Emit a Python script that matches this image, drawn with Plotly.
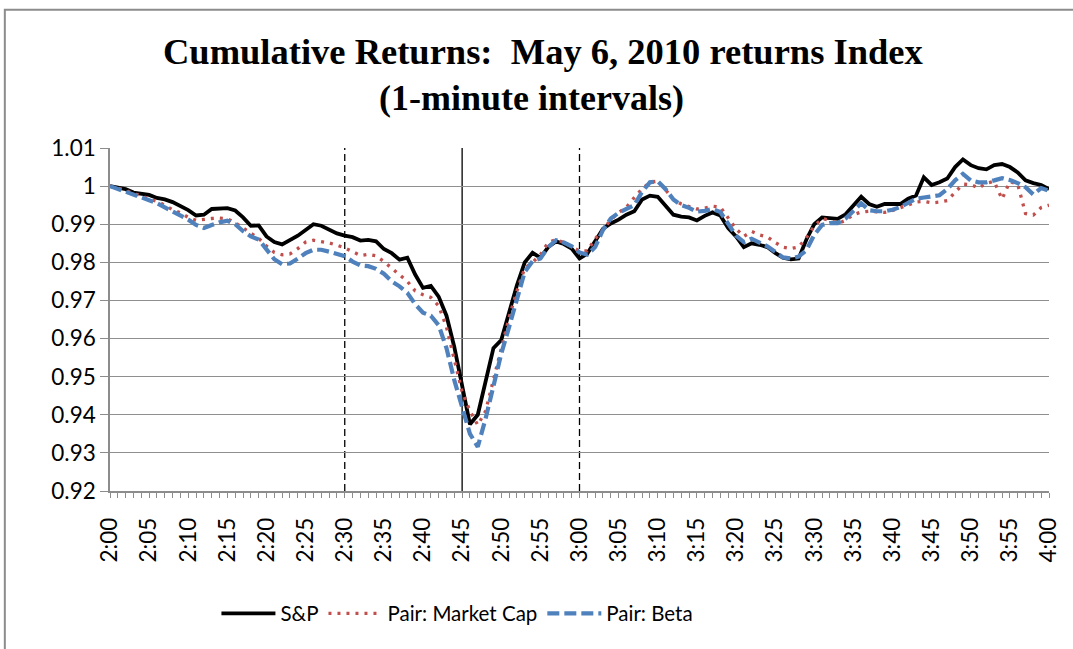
import plotly.graph_objects as go

# ---- data -------------------------------------------------------------
minutes = list(range(121))  # 2:00 .. 4:00, one per minute
time_labels = [f"{2 + m // 60}:{m % 60:02d}" for m in minutes]
tick_minutes = list(range(0, 121, 5))
tick_labels = [time_labels[m] for m in tick_minutes]

sp = [1.0000, 0.9997, 0.9992, 0.9983, 0.9980, 0.9977, 0.9969, 0.9965, 0.9958, 0.9947,
      0.9937, 0.9923, 0.9925, 0.9940, 0.9941, 0.9942, 0.9936, 0.9918, 0.9896, 0.9897,
      0.9868, 0.9853, 0.9847, 0.9858, 0.9870, 0.9885, 0.9900, 0.9896, 0.9886, 0.9876,
      0.9870, 0.9866, 0.9857, 0.9859, 0.9855, 0.9835, 0.9824, 0.9807, 0.9812, 0.9768,
      0.9733, 0.9738, 0.9710, 0.9660, 0.9578, 0.9470, 0.9375, 0.9400, 0.9490, 0.9575,
      0.9596, 0.9670, 0.9740, 0.9800, 0.9825, 0.9812, 0.9840, 0.9855, 0.9848, 0.9836,
      0.9810, 0.9823, 0.9855, 0.9888, 0.9902, 0.9912, 0.9925, 0.9934, 0.9965, 0.9975,
      0.9972, 0.9950, 0.9925, 0.9920, 0.9918, 0.9910, 0.9922, 0.9931, 0.9923, 0.9890,
      0.9868, 0.9840, 0.9850, 0.9846, 0.9840, 0.9825, 0.9812, 0.9808, 0.9810, 0.9860,
      0.9900, 0.9918, 0.9916, 0.9914, 0.9926, 0.9950, 0.9972, 0.9953, 0.9946, 0.9953,
      0.9953, 0.9953, 0.9967, 0.9975, 1.0023, 1.0003, 1.0010, 1.0020, 1.0050, 1.0070,
      1.0055, 1.0047, 1.0044, 1.0055, 1.0058, 1.0050, 1.0036, 1.0015, 1.0008, 1.0003,
      0.9992]

mcap = [1.0000, 0.9995, 0.9989, 0.9980, 0.9975, 0.9966, 0.9960, 0.9950, 0.9938, 0.9930,
        0.9918, 0.9910, 0.9913, 0.9915, 0.9916, 0.9914, 0.9904, 0.9890, 0.9878, 0.9863,
        0.9843, 0.9826, 0.9820, 0.9822, 0.9836, 0.9853, 0.9858, 0.9855, 0.9851, 0.9845,
        0.9838, 0.9828, 0.9818, 0.9821, 0.9817, 0.9802, 0.9785, 0.9766, 0.9750, 0.9725,
        0.9715, 0.9708, 0.9686, 0.9630, 0.9545, 0.9460, 0.9410, 0.9373, 0.9410, 0.9490,
        0.9578, 0.9655, 0.9725, 0.9785, 0.9800, 0.9820, 0.9852, 0.9860, 0.9852, 0.9840,
        0.9830, 0.9830, 0.9862, 0.9885, 0.9912, 0.9930, 0.9945, 0.9970, 0.9993, 1.0010,
        1.0013, 0.9990, 0.9965, 0.9953, 0.9947, 0.9940, 0.9942, 0.9947, 0.9945, 0.9915,
        0.9888, 0.9868, 0.9881, 0.9872, 0.9867, 0.9852, 0.9840, 0.9836, 0.9840, 0.9865,
        0.9895, 0.9915, 0.9910, 0.9902, 0.9910, 0.9925, 0.9932, 0.9934, 0.9932, 0.9931,
        0.9936, 0.9943, 0.9952, 0.9958, 0.9960, 0.9956, 0.9958, 0.9962, 0.9984, 1.0005,
        1.0004, 0.9995, 1.0008, 1.0012, 0.9966, 1.0012, 1.0005, 0.9928, 0.9924, 0.9944,
        0.9950]

beta = [1.0000, 0.9993, 0.9985, 0.9978, 0.9970, 0.9963, 0.9955, 0.9945, 0.9935, 0.9924,
        0.9912, 0.9898, 0.9890, 0.9898, 0.9905, 0.9909, 0.9900, 0.9882, 0.9868, 0.9860,
        0.9835, 0.9808, 0.9795, 0.9797, 0.9810, 0.9824, 0.9833, 0.9833, 0.9828, 0.9822,
        0.9816, 0.9802, 0.9792, 0.9790, 0.9783, 0.9770, 0.9750, 0.9737, 0.9720, 0.9690,
        0.9668, 0.9660, 0.9635, 0.9575, 0.9491, 0.9420, 0.9350, 0.9316, 0.9390, 0.9475,
        0.9560, 0.9630, 0.9705, 0.9775, 0.9803, 0.9810, 0.9840, 0.9858, 0.9852, 0.9842,
        0.9826, 0.9820, 0.9840, 0.9885, 0.9915, 0.9930, 0.9940, 0.9950, 0.9985, 1.0010,
        1.0013, 0.9992, 0.9965, 0.9950, 0.9943, 0.9933, 0.9935, 0.9940, 0.9932, 0.9900,
        0.9870, 0.9853, 0.9862, 0.9852, 0.9842, 0.9828, 0.9813, 0.9810, 0.9815, 0.9832,
        0.9872, 0.9898, 0.9903, 0.9903, 0.9915, 0.9935, 0.9955, 0.9937, 0.9934, 0.9934,
        0.9938, 0.9945, 0.9957, 0.9967, 0.9970, 0.9972, 0.9976, 0.9992, 1.0015, 1.0032,
        1.0015, 1.0010, 1.0010, 1.0015, 1.0021, 1.0016, 1.0008, 0.9997, 0.9978, 0.9995,
        0.9988]

y_ticks = [0.92, 0.93, 0.94, 0.95, 0.96, 0.97, 0.98, 0.99, 1.00, 1.01]
y_tick_labels = ["0.92", "0.93", "0.94", "0.95", "0.96", "0.97", "0.98", "0.99", "1", "1.01"]

event_dashed = [30, 60]   # 2:30 and 3:00
event_solid = [45]        # 2:45

series_names = ["S&P", "Pair: Market Cap", "Pair: Beta"]

# ---- figure -----------------------------------------------------------
FONT = "Lato"
fig = go.Figure()

fig.add_trace(go.Scatter(x=minutes, y=sp, name=series_names[0], mode="lines",
                         line=dict(color="#000000", width=3.8)))
fig.add_trace(go.Scatter(x=minutes, y=mcap, name=series_names[1], mode="lines",
                         line=dict(color="#C0504D", width=3.3, dash="3px,6px")))
fig.add_trace(go.Scatter(x=minutes, y=beta, name=series_names[2], mode="lines",
                         line=dict(color="#4F81BD", width=4.2, dash="12px,5px")))

for m in event_dashed:
    fig.add_vline(x=m, line=dict(color="#000000", width=1.3, dash="7px,4px"), layer="below")
for m in event_solid:
    fig.add_vline(x=m, line=dict(color="#000000", width=1.3), layer="below")

fig.update_layout(
    width=1073, height=649,
    margin=dict(l=110, r=17, t=148, b=158),
    paper_bgcolor="white", plot_bgcolor="white",
    font=dict(family=FONT, size=22, color="#000000"),
    showlegend=True,
    legend=dict(orientation="h", x=0.37, xanchor="center", y=-0.357, yanchor="middle",
                font=dict(family=FONT, size=20.5), traceorder="normal",
                itemwidth=54, tracegroupgap=0),
)

fig.update_xaxes(
    range=[0, 120], tickmode="array", tickvals=tick_minutes, ticktext=tick_labels,
    tickangle=-90, ticks="outside", ticklen=5, tickcolor="#8c8c8c",
    ticklabelstandoff=11,
    showline=True, linecolor="#8c8c8c", linewidth=1.5,
    showgrid=False, zeroline=False,
    minor=dict(tickmode="linear", tick0=0, dtick=1, ticks="outside", ticklen=5,
               tickcolor="#8c8c8c", showgrid=False),
    tickfont=dict(family=FONT, size=22.5),
)
fig.update_yaxes(
    range=[0.92, 1.01], tickmode="array", tickvals=y_ticks, ticktext=y_tick_labels,
    ticks="outside", ticklen=8, tickcolor="#8c8c8c",
    showline=True, linecolor="#8c8c8c", linewidth=1.5,
    showgrid=True, gridcolor="#8f8f8f", gridwidth=1.3, zeroline=False,
    tickfont=dict(family=FONT, size=22.5),
)

# titles
fig.add_annotation(text="<b>Cumulative Returns:  May 6, 2010 returns Index</b>",
                   xref="paper", yref="paper", x=0.461, y=1.281, showarrow=False,
                   xanchor="center", yanchor="middle",
                   font=dict(family="Liberation Serif", size=36.5, color="#000000"))
fig.add_annotation(text="<b>(1-minute intervals)</b>",
                   xref="paper", yref="paper", x=0.449, y=1.146, showarrow=False,
                   xanchor="center", yanchor="middle",
                   font=dict(family="Liberation Serif", size=36, color="#000000"))

# chart-area border (cropped at right and bottom, as in the source)
fig.add_shape(type="rect", xref="paper", yref="paper",
              x0=-0.112, x1=1.05, y0=-0.5, y1=1.403,
              line=dict(color="#8c8c8c", width=2), fillcolor="rgba(0,0,0,0)", layer="below")

fig.write_html("out.html", config={"displayModeBar": False},
               post_script="document.body.style.margin='0';document.body.style.overflow='hidden';")
